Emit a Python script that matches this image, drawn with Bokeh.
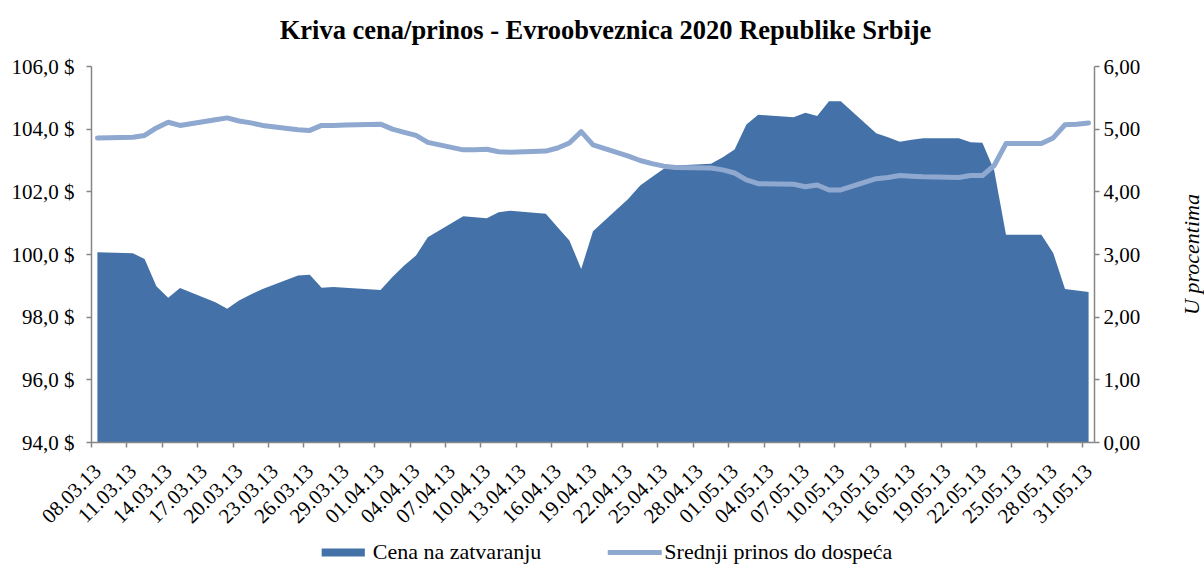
import datetime as dt
from math import pi
from bokeh.plotting import figure
from bokeh.layouts import column, row
from bokeh.models import (Range1d, LinearAxis, FixedTicker, Legend, LegendItem,
                          ColumnDataSource, Label)
from bokeh.embed import file_html
from bokeh.resources import INLINE

# ---------------- data ----------------
dates = ["08.03.13", "11.03.13", "12.03.13", "13.03.13", "14.03.13", "15.03.13",
         "18.03.13", "19.03.13", "20.03.13", "21.03.13", "22.03.13",
         "25.03.13", "26.03.13", "27.03.13", "28.03.13", "29.03.13",
         "01.04.13", "02.04.13", "03.04.13", "04.04.13", "05.04.13",
         "08.04.13", "09.04.13", "10.04.13", "11.04.13", "12.04.13",
         "15.04.13", "16.04.13", "17.04.13", "18.04.13", "19.04.13",
         "22.04.13", "23.04.13", "24.04.13", "25.04.13", "26.04.13",
         "29.04.13", "30.04.13", "01.05.13", "02.05.13", "03.05.13",
         "06.05.13", "07.05.13", "08.05.13", "09.05.13", "10.05.13",
         "13.05.13", "14.05.13", "15.05.13", "16.05.13", "17.05.13",
         "20.05.13", "21.05.13", "22.05.13", "23.05.13", "24.05.13",
         "27.05.13", "28.05.13", "29.05.13", "30.05.13", "31.05.13"]

price = [100.07, 100.04, 99.86, 98.99, 98.62, 98.93,
         98.48, 98.27, 98.53, 98.72, 98.90,
         99.33, 99.35, 98.94, 98.96, 98.94,
         98.87, 99.28, 99.65, 99.97, 100.55,
         101.22, 101.19, 101.16, 101.35, 101.40,
         101.30, 100.87, 100.45, 99.54, 100.74,
         101.78, 102.20, 102.47, 102.74, 102.84,
         102.90, 103.10, 103.35, 104.15, 104.46,
         104.38, 104.52, 104.42, 104.89, 104.89,
         103.87, 103.74, 103.60, 103.66, 103.71,
         103.71, 103.58, 103.57, 102.68, 100.63,
         100.63, 100.05, 98.90, 98.85, 98.80]

yld = [4.86, 4.87, 4.90, 5.02, 5.11, 5.06,
       5.15, 5.18, 5.13, 5.10, 5.06,
       4.99, 4.98, 5.06, 5.06, 5.065,
       5.08, 5.00, 4.95, 4.90, 4.79,
       4.67, 4.67, 4.68, 4.64, 4.63,
       4.65, 4.70, 4.78, 4.96, 4.75,
       4.57, 4.50, 4.45, 4.41, 4.39,
       4.38, 4.35, 4.30, 4.19, 4.13,
       4.12, 4.08, 4.11, 4.03, 4.03,
       4.21, 4.23, 4.26, 4.25, 4.24,
       4.23, 4.26, 4.26, 4.42, 4.77,
       4.77, 4.86, 5.07, 5.08, 5.10]

x_tick_labels = ["08.03.13", "11.03.13", "14.03.13", "17.03.13", "20.03.13",
                 "23.03.13", "26.03.13", "29.03.13", "01.04.13", "04.04.13",
                 "07.04.13", "10.04.13", "13.04.13", "16.04.13", "19.04.13",
                 "22.04.13", "25.04.13", "28.04.13", "01.05.13", "04.05.13",
                 "07.05.13", "10.05.13", "13.05.13", "16.05.13", "19.05.13",
                 "22.05.13", "25.05.13", "28.05.13", "31.05.13"]

price_ticks = [94, 96, 98, 100, 102, 104, 106]
price_tick_labels = ["94,0 $", "96,0 $", "98,0 $", "100,0 $", "102,0 $", "104,0 $", "106,0 $"]
yield_ticks = [0, 1, 2, 3, 4, 5, 6]
yield_tick_labels = ["0,00", "1,00", "2,00", "3,00", "4,00", "5,00", "6,00"]

title_text = "Kriva cena/prinos - Evroobveznica 2020 Republike Srbije"
price_name = "Cena na zatvaranju"
yield_name = "Srednji prinos do dospeća"
right_axis_title = "U procentima"

# ---------------- derived ----------------
fmt = "%d.%m.%y"
start = dt.datetime.strptime(dates[0], fmt)
xs = [(dt.datetime.strptime(d, fmt) - start).days for d in dates]
tick_pos = [(dt.datetime.strptime(d, fmt) - start).days for d in x_tick_labels]
last_day = xs[-1]

FONT = "Liberation Serif"
AREA = "#4472A8"
LINE = "#8EA8D0"
AXIS = "#868686"

src = ColumnDataSource(dict(x=xs, price=price, yld=yld,
                            base=[price_ticks[0]] * len(xs)))

W = 1204
TITLE_H = 50
LEG_H = 26
MAIN_H = 565 - TITLE_H - LEG_H
SIDE_W = 36
FRAME_TOP, FRAME_BOTTOM, FRAME_LEFT, FRAME_RIGHT = 66, 442, 91, 1094
yield_range = Range1d(yield_ticks[0], yield_ticks[-1])


def strip(width, height, **kw):
    f = figure(width=width, height=height, output_backend="svg", toolbar_location=None, **kw)
    f.axis.visible = False
    f.grid.visible = False
    f.outline_line_color = None
    f.background_fill_color = "white"
    f.border_fill_color = "white"
    return f


# ---------------- title strip ----------------
tt = strip(W, TITLE_H, min_border=0, x_range=Range1d(0, W), y_range=Range1d(0, TITLE_H))
tt.add_layout(Label(x=603, y=TITLE_H - 29, text=title_text,
                    text_align="center", text_baseline="alphabetic",
                    text_font=FONT, text_font_size="26.5px", text_font_style="bold",
                    text_color="black"))

# ---------------- main chart ----------------
p = figure(width=W - SIDE_W, height=MAIN_H, output_backend="svg", toolbar_location=None,
           x_range=Range1d(-0.5, last_day + 0.5),
           y_range=Range1d(price_ticks[0], price_ticks[-1]),
           min_border_left=FRAME_LEFT, min_border_right=W - SIDE_W - FRAME_RIGHT,
           min_border_top=FRAME_TOP - TITLE_H,
           min_border_bottom=TITLE_H + MAIN_H - FRAME_BOTTOM)
p.extra_y_ranges = {"yield": yield_range}
p.outline_line_color = None
p.xgrid.grid_line_color = None
p.ygrid.grid_line_color = None
p.background_fill_color = "white"
p.border_fill_color = "white"

p.varea(x="x", y1="base", y2="price", source=src, fill_color=AREA)
p.line(x="x", y="yld", source=src, y_range_name="yield",
       line_color=LINE, line_width=5, line_cap="round", line_join="round")

# x axis
xa = p.xaxis[0]
xa.ticker = FixedTicker(ticks=tick_pos, minor_ticks=[t - 0.5 for t in tick_pos])
xa.major_label_overrides = {t: l for t, l in zip(tick_pos, x_tick_labels)}
xa.major_label_orientation = pi / 4
xa.major_label_text_font = FONT
xa.major_label_text_font_size = "21px"
xa.major_label_text_color = "black"
xa.major_tick_line_color = None
xa.minor_tick_line_color = AXIS
xa.minor_tick_out = 5
xa.minor_tick_in = 0
xa.axis_line_color = AXIS
xa.axis_line_width = 1.5
xa.minor_tick_line_width = 1.5
xa.major_label_standoff = 19

# left axis
ya = p.yaxis[0]
ya.ticker = FixedTicker(ticks=price_ticks)
ya.major_label_overrides = {t: l for t, l in zip(price_ticks, price_tick_labels)}
ya.major_label_text_font = FONT
ya.major_label_text_font_size = "21px"
ya.major_label_text_color = "black"
ya.major_tick_out = 5
ya.major_tick_in = 0
ya.minor_tick_line_color = None
ya.major_tick_line_color = AXIS
ya.major_tick_line_width = 1.5
ya.axis_line_color = AXIS
ya.axis_line_width = 1.5
ya.major_label_standoff = 12

# right axis
ra = LinearAxis(y_range_name="yield", ticker=FixedTicker(ticks=yield_ticks))
ra.major_label_overrides = {t: l for t, l in zip(yield_ticks, yield_tick_labels)}
ra.major_label_text_font = FONT
ra.major_label_text_font_size = "21px"
ra.major_label_text_color = "black"
ra.major_tick_out = 5
ra.major_tick_in = 0
ra.minor_tick_line_color = None
ra.major_tick_line_color = AXIS
ra.major_tick_line_width = 1.5
ra.axis_line_color = AXIS
ra.axis_line_width = 1.5
ra.major_label_standoff = 4
p.add_layout(ra, "right")

# ---------------- right axis title strip ----------------
side = strip(SIDE_W, MAIN_H, min_border_left=0, min_border_right=0,
             min_border_top=FRAME_TOP - TITLE_H,
             min_border_bottom=TITLE_H + MAIN_H - FRAME_BOTTOM,
             x_range=Range1d(0, SIDE_W), y_range=yield_range)
side.add_layout(Label(x=23, y=(yield_ticks[0] + yield_ticks[-1]) / 2,
                      text=right_axis_title, angle=pi / 2,
                      text_align="center", text_baseline="middle",
                      text_font=FONT, text_font_size="22px", text_font_style="italic",
                      text_color="black"))

# ---------------- legend strip ----------------
lg = strip(W, LEG_H, min_border=0, min_border_left=4,
           x_range=Range1d(-3, -2), y_range=Range1d(0, 1))
r1 = lg.varea(x="x", y1="base", y2="price", source=src, fill_color=AREA)
r2 = lg.line(x="x", y="yld", source=src, line_color=LINE, line_width=5, line_cap="round")
legend = Legend(items=[LegendItem(label=price_name, renderers=[r1]),
                       LegendItem(label=yield_name, renderers=[r2])],
                orientation="horizontal", location="center",
                border_line_color=None, background_fill_alpha=0,
                label_text_font=FONT, label_text_font_size="22px",
                label_text_color="black",
                glyph_width=54, glyph_height=10, label_standoff=3,
                spacing=66, padding=0, margin=0)
lg.add_layout(legend)

layout = column(tt, row(p, side, spacing=0), lg, spacing=0)
open("out.html", "w").write(file_html(layout, INLINE))
